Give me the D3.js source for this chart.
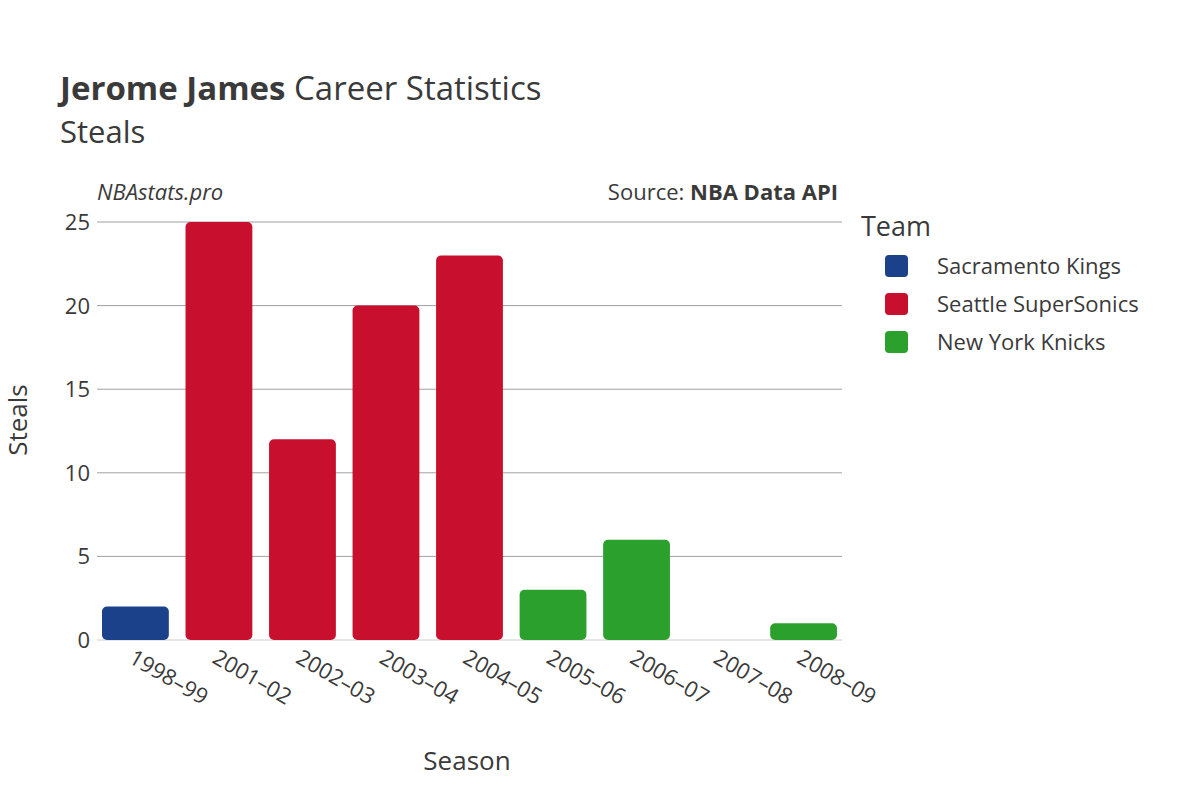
<!DOCTYPE html>
<html><head><meta charset="utf-8">
<script src="https://cdn.jsdelivr.net/npm/d3@7"></script>
<style>body{margin:0;background:#fff;font-family:"Open Sans","Noto Sans",sans-serif;}</style>
</head><body><svg id="c" width="1200" height="800"></svg>
<script>
const seasons = ["1998-99","2001-02","2002-03","2003-04","2004-05","2005-06","2006-07","2007-08","2008-09"];
const steals = [2,25,12,20,23,3,6,0,1];
const teams = ["Sacramento Kings","Seattle SuperSonics","Seattle SuperSonics","Seattle SuperSonics","Seattle SuperSonics","New York Knicks","New York Knicks","New York Knicks","New York Knicks"];
const teamNames = ["Sacramento Kings","Seattle SuperSonics","New York Knicks"];
const teamColors = ["#1a4189","#c8102e","#2ca02c"];
const yTicks = [0,5,10,15,20,25];

const svg = d3.select("#c");
const L=97,R=842,T=222,B=640;
const x = d3.scaleBand().domain(seasons).range([L,R]).paddingInner(0.2).paddingOuter(0.06);
const y = d3.scaleLinear().domain([0,25]).range([B,T]);
const color = d3.scaleOrdinal().domain(teamNames).range(teamColors);
const txt="#3a3a3a";

svg.append("g").selectAll("line").data(yTicks).join("line")
  .attr("x1",L).attr("x2",R).attr("y1",d=>y(d)).attr("y2",d=>y(d))
  .attr("stroke",d=>d===0?"#e6e6e6":"#a0a0a0").attr("stroke-width",d=>d===0?2:1);
svg.append("g").selectAll("text").data(yTicks).join("text")
  .attr("x",90).attr("y",d=>y(d)+8).attr("text-anchor","end")
  .attr("font-size",22).attr("fill",txt).text(d=>d);

svg.append("g").selectAll("rect").data(seasons).join("rect")
  .attr("x",d=>x(d)).attr("width",x.bandwidth())
  .attr("y",(d,i)=>y(steals[i])).attr("height",(d,i)=>B-y(steals[i]))
  .attr("rx",5).attr("fill",(d,i)=>color(teams[i]));

svg.append("g").selectAll("text").data(seasons).join("text")
  .attr("transform",d=>`translate(${x(d)+x.bandwidth()/2-8},${B+22}) rotate(30)`)
  .attr("font-size",22).attr("fill",txt).text(d=>d.replace("-","–"));

svg.append("text").attr("x",60).attr("y",100).attr("font-size",33).attr("fill",txt)
  .html('<tspan font-weight="bold">Jerome James</tspan> Career Statistics');
svg.append("text").attr("x",60).attr("y",143).attr("font-size",31).attr("fill",txt).text("Steals");
svg.append("text").attr("x",97).attr("y",200).attr("font-size",22).attr("font-style","italic").attr("fill",txt).text("NBAstats.pro");
svg.append("text").attr("x",838).attr("y",200).attr("font-size",22).attr("text-anchor","end").attr("fill",txt)
  .html('Source: <tspan font-weight="bold">NBA Data API</tspan>');
svg.append("text").attr("x",467).attr("y",770).attr("font-size",26).attr("text-anchor","middle").attr("fill",txt).text("Season");
svg.append("text").attr("transform","translate(27,420) rotate(-90)").attr("font-size",26).attr("text-anchor","middle").attr("fill",txt).text("Steals");

svg.append("text").attr("x",861).attr("y",236).attr("font-size",27).attr("fill",txt).text("Team");
const lg = svg.append("g").selectAll("g").data(teamNames).join("g")
  .attr("transform",(d,i)=>`translate(885,${266+i*38})`);
lg.append("rect").attr("x",0).attr("y",-11).attr("width",23).attr("height",22).attr("rx",4).attr("fill",d=>color(d));
lg.append("text").attr("x",52).attr("y",8).attr("font-size",22).attr("fill",txt).text(d=>d);
</script></body></html>
